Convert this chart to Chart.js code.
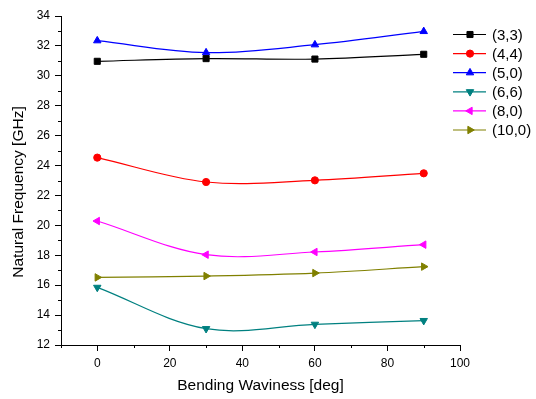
<!DOCTYPE html>
<html><head><meta charset="utf-8">
<script src="https://cdn.jsdelivr.net/npm/chart.js@4/dist/chart.umd.min.js"></script>
<style>html,body{margin:0;padding:0;background:#fff;}#wrap{width:536px;height:399px;}</style>
</head><body><div id="wrap"><canvas id="c" width="536" height="399"></canvas></div>
<script>
const waviness = [0, 30, 60, 90];
const s33 = [30.97, 31.15, 31.12, 31.44];
const s44 = [24.53, 22.90, 23.01, 23.48];
const s50 = [32.35, 31.55, 32.08, 32.97];
const s66 = [15.85, 13.09, 13.38, 13.63];
const s80 = [20.29, 18.04, 18.22, 18.71];
const s100 = [16.52, 16.61, 16.81, 17.24];
const seriesLabels = ['(3,3)', '(4,4)', '(5,0)', '(6,6)', '(8,0)', '(10,0)'];
const xMajorTicks = [0, 20, 40, 60, 80, 100];
const yMajorTicks = [12, 14, 16, 18, 20, 22, 24, 26, 28, 30, 32, 34];
const xTitle = 'Bending Waviness [deg]';
const yTitle = 'Natural Frequency [GHz]';

const FONT = 'Liberation Sans, Arial, sans-serif';
const styles = [
  {color:'#000000', pointStyle:'rect', rotation:0, radius:4.3},
  {color:'#FF0000', pointStyle:'circle', rotation:0, radius:3.6},
  {color:'#0000FF', pointStyle:'triangle', rotation:0, radius:4.3},
  {color:'#008080', pointStyle:'triangle', rotation:180, radius:4.3},
  {color:'#FF00FF', pointStyle:'triangle', rotation:270, radius:4.3},
  {color:'#808000', pointStyle:'triangle', rotation:90, radius:4.3}
];
const allSeries = [s33, s44, s50, s66, s80, s100];
const datasets = allSeries.map((s, i) => ({
  label: seriesLabels[i],
  data: waviness.map((x, j) => ({x: x, y: s[j]})),
  borderColor: styles[i].color,
  backgroundColor: styles[i].color,
  pointBackgroundColor: styles[i].color,
  pointBorderColor: styles[i].color,
  pointStyle: styles[i].pointStyle,
  pointRotation: styles[i].rotation,
  pointRadius: styles[i].radius,
  pointBorderWidth: 1,
  borderWidth: 1.2,
  tension: 0.35,
  fill: false
}));

function drawMarker(ctx, st, x, y) {
  if (Chart.helpers && Chart.helpers.drawPoint) {
    ctx.fillStyle = st.color; ctx.strokeStyle = st.color; ctx.lineWidth = 1;
    Chart.helpers.drawPoint(ctx, {pointStyle: st.pointStyle, rotation: st.rotation, radius: st.radius, borderWidth: 1}, x, y);
  }
}

const extras = {
  id: 'extras',
  afterDraw(chart) {
    const ctx = chart.ctx;
    const xs = chart.scales.x, ys = chart.scales.y;
    ctx.save();
    ctx.strokeStyle = '#000'; ctx.lineWidth = 1;
    // minor ticks
    ctx.beginPath();
    for (let v = -10; v <= 100; v += 20) {
      const px = Math.round(xs.getPixelForValue(v)) + 0.5;
      ctx.moveTo(px, ys.bottom); ctx.lineTo(px, ys.bottom + 3);
    }
    for (let v = 13; v <= 33; v += 2) {
      const py = Math.round(ys.getPixelForValue(v)) + 0.5;
      ctx.moveTo(xs.left, py); ctx.lineTo(xs.left - 3, py);
    }
    ctx.stroke();
    // y axis title
    ctx.fillStyle = '#000';
    ctx.font = '15.5px ' + FONT; ctx.textAlign = 'center'; ctx.textBaseline = 'middle';
    ctx.save();
    ctx.translate(19, 192); ctx.rotate(-Math.PI / 2);
    ctx.fillText(yTitle, 0, 0);
    ctx.restore();
    // legend
    const x0 = 453, x1 = 486, mx = 470, tx = 492, y0 = 34.5, dy = 19.1;
    ctx.font = '15px ' + FONT; ctx.textBaseline = 'middle'; ctx.textAlign = 'left';
    chart.data.datasets.forEach((ds, i) => {
      const y = y0 + i * dy;
      ctx.strokeStyle = styles[i].color; ctx.lineWidth = 1.2;
      ctx.beginPath(); ctx.moveTo(x0, y); ctx.lineTo(x1, y); ctx.stroke();
      drawMarker(ctx, styles[i], mx, y);
      ctx.fillStyle = '#000';
      ctx.fillText(ds.label, tx, y + 1);
    });
    ctx.restore();
  }
};

new Chart(document.getElementById('c'), {
  type: 'line',
  data: { datasets: datasets },
  options: {
    responsive: false,
    animation: false,
    layout: { padding: { top: 16, right: 76, left: 0, bottom: 0 } },
    plugins: { legend: { display: false }, tooltip: { enabled: false } },
    scales: {
      x: {
        type: 'linear', min: -10, max: 100,
        afterBuildTicks: (s) => { s.ticks = xMajorTicks.map(v => ({value: v})); },
        afterFit: (s) => { s.height = 54; },
        grid: { drawOnChartArea: false, drawTicks: true, tickLength: 6, color: '#000', lineWidth: 1 },
        border: { color: '#000', width: 1 },
        ticks: { color: '#000', font: { family: FONT, size: 12 }, padding: 5, maxRotation: 0 },
        title: { display: true, text: xTitle, color: '#000', font: { family: FONT, size: 15.5 }, padding: { top: 0, bottom: 4 } }
      },
      y: {
        type: 'linear', min: 12, max: 34,
        afterBuildTicks: (s) => { s.ticks = yMajorTicks.map(v => ({value: v})); },
        afterFit: (s) => { s.width = 61; },
        grid: { drawOnChartArea: false, drawTicks: true, tickLength: 6, color: '#000', lineWidth: 1 },
        border: { color: '#000', width: 1 },
        ticks: { color: '#000', font: { family: FONT, size: 12 }, padding: 5 },
        title: { display: false, text: yTitle }
      }
    }
  },
  plugins: [extras]
});
</script>
</body></html>
